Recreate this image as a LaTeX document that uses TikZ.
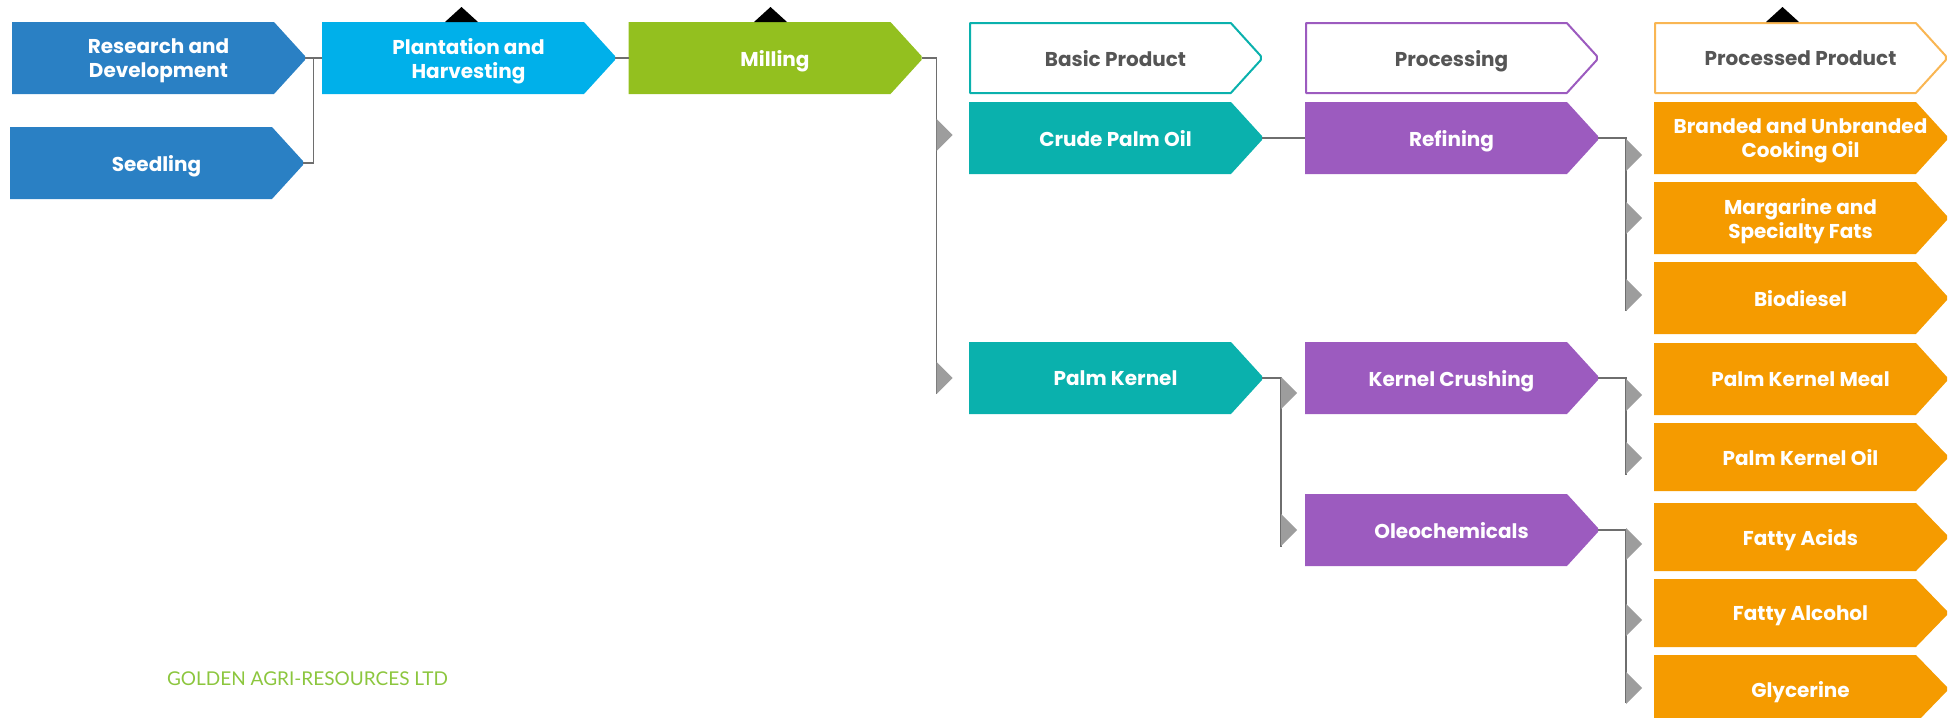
\documentclass[tikz,border=0pt]{standalone}
\usepackage{fontspec}
\setmainfont{Poppins}
\newfontfamily\garfont{Lato}
\usetikzlibrary{positioning,calc}
\definecolor{rdblue}{HTML}{2A80C4}
\definecolor{skyblue}{HTML}{00B0EA}
\definecolor{millgreen}{HTML}{93C01F}
\definecolor{palmteal}{HTML}{0AB1AD}
\definecolor{procpurple}{HTML}{9C5BBF}
\definecolor{prodorange}{HTML}{F59B00}
\definecolor{headorange}{HTML}{F9B653}
\definecolor{headgray}{HTML}{555555}
\definecolor{busgray}{HTML}{6E6E6E}
\definecolor{pingray}{HTML}{9D9D9D}
\definecolor{gargreen}{HTML}{8CC63E}
\newcommand\busarrow[1]{\fill[pingray] (#1) ++(0,-16) -- ++(16,16) -- ++(-16,16) -- cycle;}

\begin{document}
\begin{tikzpicture}[x=0.5pt, y=-0.5pt, node distance=4pt, >=stealth]
  \tikzstyle{stage}=[rectangle, inner sep=0pt, outer sep=0pt, minimum width=146.5pt, minimum height=36pt, align=center,
    text=white, text depth=0pt, font=\bfseries\fontsize{10}{12}\selectfont,
    path picture={\fill[#1] (path picture bounding box.north west) -- ([xshift=-15.5pt]path picture bounding box.north east)
      -- ([yshift=1pt]path picture bounding box.east) -- ([yshift=-1pt]path picture bounding box.east)
      -- ([xshift=-15.5pt]path picture bounding box.south east) -- (path picture bounding box.south west) -- cycle;}]
  \tikzstyle{head}=[rectangle, inner sep=0pt, outer sep=0pt, minimum width=146.5pt, minimum height=36pt, align=center,
    text=headgray, text depth=0pt, font=\bfseries\fontsize{10}{12}\selectfont,
    path picture={\draw[#1, line width=1pt, line join=round] ([shift={(0.5pt,-0.5pt)}]path picture bounding box.north west)
      -- ([shift={(-15.6pt,-0.5pt)}]path picture bounding box.north east) -- ([shift={(-0.6pt,1pt)}]path picture bounding box.east)
      -- ([shift={(-0.6pt,-1pt)}]path picture bounding box.east) -- ([shift={(-15.6pt,0.5pt)}]path picture bounding box.south east)
      -- ([shift={(0.5pt,0.5pt)}]path picture bounding box.south west) -- cycle;}]
  \tikzstyle{bus}=[busgray, line width=0.75pt]
  \useasboundingbox (0,0) rectangle (1951,718);

  % upstream
  \node[stage=rdblue] (rd) at (158.5,58) {Research and\\Development};
  \node[stage=rdblue] (seed) at (156.5,163) {Seedling};
  \node[stage=skyblue, right=8.5pt of rd] (plant) {Plantation and\\Harvesting};
  \node[stage=millgreen, right=6.75pt of plant] (mill) {Milling};

  % column heads
  \node[head=palmteal, right=23.75pt of mill] (basic) {Basic Product};
  \node[head=procpurple, right=21.5pt of basic] (proc) {Processing};
  \node[head=headorange, right=28pt of proc] (phead) {Processed Product};

  % basic products and processing
  \node[stage=palmteal, below=of basic] (cpo) {Crude Palm Oil};
  \node[stage=palmteal, below=84pt of cpo] (pk) {Palm Kernel};
  \node[stage=procpurple, right=21.5pt of cpo] (ref) {Refining};
  \node[stage=procpurple, right=21.5pt of pk] (kc) {Kernel Crushing};
  \node[stage=procpurple, below=40pt of kc] (oleo) {Oleochemicals};

  % processed products
  \node[stage=prodorange, right=28pt of ref] (oil) {Branded and Unbranded\\Cooking Oil};
  \node[stage=prodorange, below=of oil] (marg) {Margarine and\\Specialty Fats};
  \node[stage=prodorange, below=of marg] (bio) {Biodiesel};
  \node[stage=prodorange, below=4.5pt of bio] (pkm) {Palm Kernel Meal};
  \node[stage=prodorange, minimum height=34pt, below=of pkm] (pko) {Palm Kernel Oil};
  \node[stage=prodorange, minimum height=34pt, below=6pt of pko] (fa) {Fatty Acids};
  \node[stage=prodorange, minimum height=34pt, below=of fa] (falc) {Fatty Alcohol};
  \node[stage=prodorange, minimum height=34pt, below=of falc] (gly) {Glycerine};

  \node[text=gargreen, font=\garfont\fontsize{9.5}{11}\selectfont] (gar) at (307.5,679) {GOLDEN AGRI-RESOURCES LTD};

  % markers on top
  \fill ($(plant.north)+(-23.5,0)$) -- ++(16.5,-15) -- ++(16.5,15) -- cycle;
  \fill ($(mill.north)+(-21,0)$) -- ++(16.5,-15) -- ++(16.5,15) -- cycle;
  \fill ($(phead.north)+(-34.5,0)$) -- ++(16.5,-15) -- ++(16.5,15) -- cycle;

  % connectors
  \draw[bus] (rd.east) -- (plant.west);
  \draw[bus] (seed.east) -| ($(rd.east)!0.5!(plant.west)$);
  \draw[bus] (plant.east) -- (mill.west);

  \coordinate (j1) at ($(mill.east)+(15,0)$);
  \draw[bus] (mill.east) -- (j1) -- ($(j1 |- pk)+(0,16)$);
  \busarrow{$(j1 |- cpo)+(0,-3)$}
  \busarrow{j1 |- pk}

  \draw[bus] (cpo.east) -- (ref.west);
  \coordinate (j2) at ($(pk.east)+(19,0)$);
  \draw[bus] (pk.east) -- (j2) -- ($(j2 |- oleo)+(0,17)$);
  \busarrow{$(j2 |- kc)+(0,15)$}
  \busarrow{j2 |- oleo}

  \coordinate (j3) at ($(ref.east)+(28,0)$);
  \draw[bus] (ref.east) -- (j3) -- ($(j3 |- bio)+(0,13)$);
  \busarrow{$(j3 |- oil)+(0,17)$}
  \busarrow{j3 |- marg}
  \busarrow{$(j3 |- bio)+(0,-3)$}

  \coordinate (j4) at ($(kc.east)+(28,0)$);
  \draw[bus] (kc.east) -- (j4) -- ($(j4 |- pko)+(0,18)$);
  \busarrow{$(j4 |- pkm)+(0,16)$}
  \busarrow{$(j4 |- pko)+(0,1)$}

  \coordinate (j5) at ($(oleo.east)+(28,0)$);
  \draw[bus] (oleo.east) -- (j5) -- ($(j5 |- gly)+(0,14)$);
  \busarrow{$(j5 |- fa)+(0,7)$}
  \busarrow{$(j5 |- falc)+(0,7)$}
  \busarrow{$(j5 |- gly)+(0,-1)$}
\end{tikzpicture}
\end{document}
